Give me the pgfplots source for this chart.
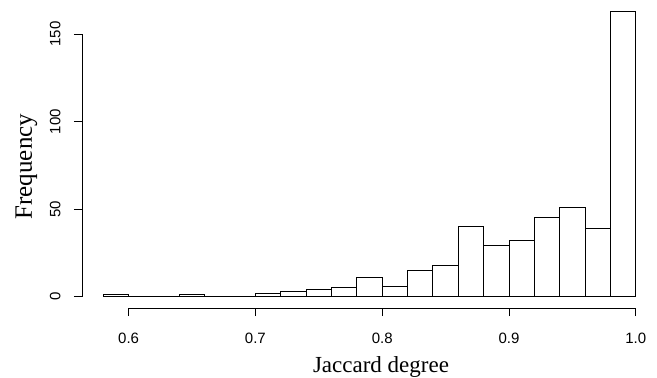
\documentclass[border=0pt]{standalone}
\usepackage{fontspec}
\setmainfont{Liberation Serif}
\setsansfont{Liberation Sans}
\usepackage{pgfplots}
\pgfplotsset{compat=1.18}
\begin{document}
\begin{tikzpicture}
\begin{axis}[
  scale only axis,
  width=575pt, height=308pt,
  xmin=0.5632, xmax=1.0168,
  ymin=-6.52, ymax=169.52,
  axis x line*=bottom, axis y line*=left,
  axis line style={draw=none},
  tick align=outside,
  major tick length=8pt,
  tick style={black, line width=0.7pt},
  xtick={0.6,0.7,0.8,0.9,1.0},
  xticklabels={0.6,0.7,0.8,0.9,1.0},
  ytick={0,50,100,150},
  yticklabels={0,50,100,150},
  minor tick num=0,
  /pgf/number format/assume math mode=true,
  ticklabel style={font=\sffamily\fontsize{15}{16}\selectfont},
  xticklabel style={yshift=-13pt},
  yticklabel style={rotate=90, anchor=south, xshift=0pt, yshift=10pt},
  xlabel={Jaccard degree},
  ylabel={Frequency},
  xlabel style={font=\fontsize{23}{24}\selectfont, at={(axis description cs:0.52,0)}, anchor=base, yshift=-64pt},
  ylabel style={font=\fontsize{25}{26}\selectfont, at={(axis description cs:0,0.459)}, anchor=base, yshift=50pt},
  clip=false,
]
\addplot[ybar interval, fill=white, draw=black, line width=0.8pt] coordinates {
(0.58,1)(0.60,0)(0.62,0)(0.64,1)(0.66,0)(0.68,0)(0.70,2)(0.72,3)(0.74,4)(0.76,5)
(0.78,11)(0.80,6)(0.82,15)(0.84,18)(0.86,40)(0.88,29)(0.90,32)(0.92,45)(0.94,51)
(0.96,39)(0.98,163)(1.00,0)};
\draw[black, line width=0.7pt] (axis cs:0.6,-6.52) -- (axis cs:1.0,-6.52);
\draw[black, line width=0.7pt] (axis cs:0.5632,0) -- (axis cs:0.5632,150);
\coordinate (ll) at (rel axis cs:0,0);
\coordinate (ur) at (rel axis cs:1,1);
\end{axis}
\pgfresetboundingbox
\path ([xshift=-82pt,yshift=-70pt]ll) rectangle (ur);
\end{tikzpicture}
\end{document}
